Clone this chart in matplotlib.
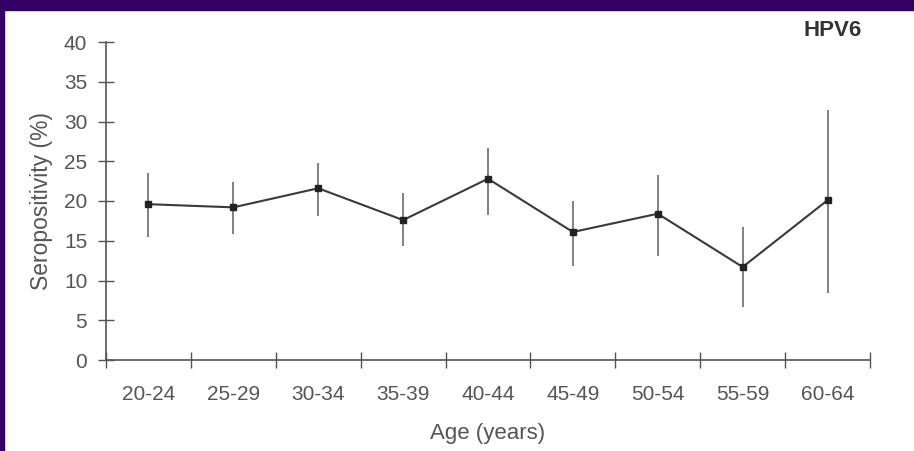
import numpy as np
import matplotlib
matplotlib.use("Agg")
import matplotlib.pyplot as plt
import matplotlib.patches as patches

plt.rcParams['font.family'] = ['Liberation Sans', 'DejaVu Sans']

age_groups = ['20-24', '25-29', '30-34', '35-39', '40-44', '45-49', '50-54', '55-59', '60-64']
seropos = [19.6, 19.2, 21.6, 17.6, 22.8, 16.1, 18.4, 11.7, 20.1]
ci_low = [15.5, 15.8, 18.1, 14.3, 18.2, 11.8, 13.1, 6.7, 8.4]
ci_high = [23.5, 22.4, 24.8, 21.0, 26.7, 20.0, 23.3, 16.7, 31.4]

TEXT = '#555555'
AXIS = '#555555'

fig = plt.figure(figsize=(9.14, 4.51), dpi=100)
fig.patch.set_facecolor('white')

# purple frame at top and left
fig.add_artist(patches.Rectangle((0, 1 - 10 / 451), 1, 10 / 451, transform=fig.transFigure,
                                 color='#330066', zorder=10))
fig.add_artist(patches.Rectangle((0, 0), 4 / 914, 1, transform=fig.transFigure,
                                 color='#330066', zorder=10))

ax = fig.add_axes([106 / 914, (451 - 360) / 451, (870 - 106) / 914, (360 - 42) / 451])

x = np.arange(len(age_groups))
y = np.array(seropos)
yerr = [y - np.array(ci_low), np.array(ci_high) - y]

ax.errorbar(x, y, yerr=yerr, fmt='none', ecolor='#777777', elinewidth=1.3, capsize=0, zorder=2)
ax.plot(x, y, color='#3a3a3a', linewidth=1.5, zorder=3)
ax.plot(x, y, linestyle='none', marker='s', markersize=5, color='#222222', zorder=4)

ax.set_xlim(-0.5, len(age_groups) - 0.5)
ax.set_ylim(0, 40)
ax.set_yticks(np.arange(0, 41, 5))
ax.set_xticks(x)
ax.set_xticklabels(age_groups)
ax.set_xticks(np.arange(-0.5, len(age_groups)), minor=True)

for s in ['top', 'right']:
    ax.spines[s].set_visible(False)
for s in ['left', 'bottom']:
    ax.spines[s].set_color(AXIS)
    ax.spines[s].set_linewidth(1.2)

ax.tick_params(axis='y', direction='inout', length=11, width=1.0, color=AXIS,
               labelcolor=TEXT, labelsize=15, pad=8)
ax.tick_params(axis='x', which='major', length=0, labelcolor=TEXT, labelsize=15, pad=18)
ax.tick_params(axis='x', which='minor', direction='inout', length=11, width=1.0, color=AXIS)

ax.set_xlabel('Age (years)', fontsize=16, color=TEXT, labelpad=14)
ax.set_ylabel('Seropositivity (%)', fontsize=16.5, color=TEXT, labelpad=8)

fig.text(833 / 914, 1 - 31 / 451, 'HPV6', fontsize=16, fontweight='bold', color='#333333',
         ha='center', va='center')

fig.savefig('out.png', dpi=100)
